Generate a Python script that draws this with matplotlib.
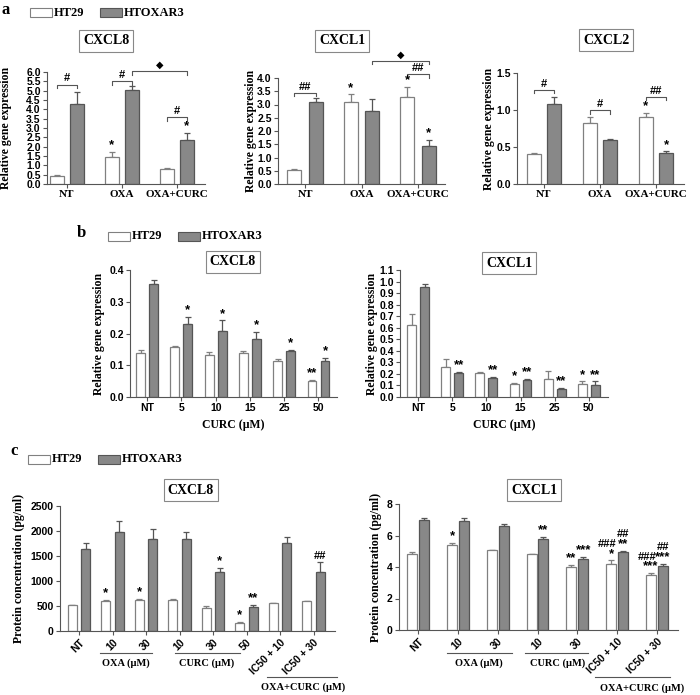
import numpy as np
import matplotlib
matplotlib.use('Agg')
import matplotlib.pyplot as plt
from matplotlib.patches import Rectangle
from matplotlib.transforms import blended_transform_factory

W, H = 700, 695
SERIF = ['Liberation Serif', 'DejaVu Serif']
SANS = ['Liberation Sans', 'DejaVu Sans']
GRAY = '#888888'
EDGE_G = '#555555'
EDGE_W = '#808080'

# ── Datos: panel a (expresión relativa) ─────────────────
a_cats = ['NT', 'OXA', 'OXA+CURC']
a8_ht29 = [0.45, 1.45, 0.78]
a8_ht29_err = [0.05, 0.25, 0.10]
a8_htox = [4.30, 5.05, 2.35]
a8_htox_err = [0.65, 0.20, 0.40]

a1_ht29 = [0.52, 3.08, 3.27]
a1_ht29_err = [0.03, 0.30, 0.38]
a1_htox = [3.08, 2.75, 1.42]
a1_htox_err = [0.15, 0.45, 0.25]

a2_ht29 = [0.40, 0.82, 0.90]
a2_ht29_err = [0.02, 0.09, 0.06]
a2_htox = [1.08, 0.60, 0.42]
a2_htox_err = [0.10, 0.01, 0.02]

# ── Datos: panel b (dosis de CURC) ──────────────────────
b_cats = ['NT', '5', '10', '15', '25', '50']
b8_ht29 = [0.140, 0.158, 0.132, 0.140, 0.113, 0.050]
b8_ht29_err = [0.008, 0.004, 0.010, 0.006, 0.006, 0.005]
b8_htox = [0.355, 0.230, 0.208, 0.182, 0.145, 0.113]
b8_htox_err = [0.013, 0.023, 0.033, 0.022, 0.004, 0.009]
b8_ht29_sig = ['', '', '', '', '', '**']
b8_htox_sig = ['', '*', '*', '*', '*', '*']

b1_ht29 = [0.62, 0.26, 0.21, 0.11, 0.16, 0.11]
b1_ht29_err = [0.10, 0.07, 0.005, 0.015, 0.065, 0.025]
b1_htox = [0.95, 0.21, 0.165, 0.15, 0.07, 0.10]
b1_htox_err = [0.025, 0.005, 0.008, 0.003, 0.01, 0.035]
b1_ht29_sig = ['', '', '', '*', '', '*']
b1_htox_sig = ['', '**', '**', '**', '**', '**']

# ── Datos: panel c (proteína) ───────────────────────────
c8_cats = ['NT', '10', '30', '10', '30', '50', 'IC50 + 10', 'IC50 + 30']
c8_ht29 = [520, 610, 630, 630, 460, 160, 560, 600]
c8_ht29_err = [10, 10, 10, 10, 40, 30, 5, 5]
c8_htox = [1640, 1980, 1840, 1840, 1190, 480, 1770, 1190]
c8_htox_err = [120, 220, 200, 140, 70, 45, 120, 190]
c8_ht29_sig = ['', '*', '*', '', '', '*', '', '']
c8_htox_sig = ['', '', '', '', '*', '**', '', '##']

c1_cats = ['NT', '10', '30', '10', '30', 'IC50 + 10', 'IC50 + 30']
c1_ht29 = [4.83, 5.40, 5.05, 4.80, 4.00, 4.22, 3.52]
c1_ht29_err = [0.10, 0.15, 0.04, 0.02, 0.12, 0.20, 0.12]
c1_htox = [7.00, 6.93, 6.63, 5.75, 4.50, 4.97, 4.05]
c1_htox_err = [0.08, 0.20, 0.10, 0.15, 0.12, 0.03, 0.13]
c1_ht29_sig = ['', '*', '', '', '**', '*', '***']
c1_htox_sig = ['', '', '', '**', '***', '**', '***']
c1_ht29_hash = ['', '', '', '', '', '###', '###']
c1_htox_hash = ['', '', '', '', '', '##', '##']


def rect(l, t, r, b):
    return [l / W, 1 - b / H, (r - l) / W, (b - t) / H]


def base_axes(fig, box, xlim, ylim, yticks, yfmt, ylabel, lab_px):
    ax = fig.add_axes(rect(*box))
    ax.set_xlim(*xlim)
    ax.set_ylim(*ylim)
    ax.set_yticks(yticks)
    ax.set_yticklabels([yfmt.format(v) for v in yticks],
                       family=SANS, fontweight='bold', fontsize=7.5)
    for s in ['top', 'right']:
        ax.spines[s].set_visible(False)
    for s in ['left', 'bottom']:
        ax.spines[s].set_color('#555555')
        ax.spines[s].set_linewidth(0.8)
    ax.tick_params(length=3, width=0.8, color='#555555', pad=1.5)
    ax.set_ylabel(ylabel, family=SERIF, fontweight='bold', fontsize=8.5)
    # lab_px: distancia (px) desde el eje hasta el borde derecho del rótulo
    ax.yaxis.set_label_coords(-lab_px / (box[2] - box[0]), 0.5)
    return ax


def draw_bars(ax, x, v1, e1, v2, e2, off, w, capw):
    x = np.asarray(x, dtype=float)
    ax.bar(x - off, v1, w, color='white', edgecolor=EDGE_W, linewidth=0.9, zorder=2)
    ax.bar(x + off, v2, w, color=GRAY, edgecolor=EDGE_G, linewidth=0.9, zorder=2)
    ax.errorbar(x - off, v1, yerr=[np.zeros(len(v1)), e1], fmt='none',
                ecolor=EDGE_W, elinewidth=0.9, capsize=capw, capthick=0.9, zorder=1)
    ax.errorbar(x + off, v2, yerr=[np.zeros(len(v2)), e2], fmt='none',
                ecolor=EDGE_G, elinewidth=0.9, capsize=capw, capthick=0.9, zorder=1)


def sig(ax, x, top, txt, dy=0.5, ha='center'):
    if not txt:
        return
    fs = 8 if '#' in txt else 9.5
    ax.annotate(txt, xy=(x, top), xytext=(0, dy), textcoords='offset points',
                ha=ha, va='bottom', family=SANS, fontweight='bold',
                fontsize=fs, annotation_clip=False)


def bracket(ax, x1, x2, y, h, txt):
    ax.plot([x1, x1, x2, x2], [y - h, y, y, y - h], color='#555555', lw=0.8,
            clip_on=False)
    ax.text((x1 + x2) / 2, y + h * 0.3, txt, ha='center', va='bottom',
            family=SANS, fontweight='bold', fontsize=8 if txt != '\u25c6' else 7)


def title_box(x, y, txt):
    fig.text(x / W, 1 - y / H, txt, ha='center', va='center', family=SERIF,
             fontweight='bold', fontsize=10,
             bbox=dict(boxstyle='square,pad=0.3', facecolor='white',
                       edgecolor='#888888', linewidth=0.8))


def legend(x0, yc, gx):
    for bx, fc, ec, name in [(x0, 'white', EDGE_W, 'HT29'),
                              (gx, GRAY, EDGE_G, 'HTOXAR3')]:
        fig.patches.append(Rectangle((bx / W, 1 - (yc + 4.5) / H), 22 / W, 9 / H,
                                     transform=fig.transFigure, facecolor=fc,
                                     edgecolor=ec, linewidth=0.8))
        fig.text((bx + 24) / W, 1 - yc / H, name, ha='left', va='center',
                 family=SERIF, fontweight='bold', fontsize=9)


def group_label(ax, x1, x2, yline, ylab, xlab, txt):
    tr = blended_transform_factory(ax.transData, ax.transAxes)
    ax.plot([x1, x2], [yline, yline], color='#555555', lw=0.8,
            transform=tr, clip_on=False)
    ax.text(xlab, ylab, txt, transform=tr, ha='center', va='center',
            family=SERIF, fontweight='bold', fontsize=7.5)


fig = plt.figure(figsize=(7, 6.95), dpi=100)
fig.patch.set_facecolor('white')

# ── Panel a ────────────────────────────────────────────
fig.text(2 / W, 1 - 10 / H, 'a', family=SERIF, fontweight='bold', fontsize=12,
         va='center')
legend(30, 12.5, 100)
xa = np.arange(3)
ylab_a = 'Relative gene expression'

ax = base_axes(fig, (47, 72, 205, 184), (-0.36, 2.51), (0, 6),
               np.arange(0, 6.01, 0.5), '{:.1f}', ylab_a, 35)
draw_bars(ax, xa, a8_ht29, a8_ht29_err, a8_htox, a8_htox_err, 0.18, 0.25, 2.5)
sig(ax, 1 - 0.18, a8_ht29[1] + a8_ht29_err[1], '*')
sig(ax, 2 + 0.18, a8_htox[2] + a8_htox_err[2], '*')
bracket(ax, -0.18, 0.18, 5.33, 0.2, '#')
bracket(ax, 1 - 0.18, 1 + 0.18, 5.5, 0.2, '#')
bracket(ax, 2 - 0.18, 2 + 0.18, 3.57, 0.2, '#')
bracket(ax, 1 + 0.18, 2 + 0.18, 6.05, 0.2, '\u25c6')
ax.set_xticks(xa)
ax.set_xticklabels(a_cats, family=SERIF, fontweight='bold', fontsize=8)
title_box(106, 41, 'CXCL8')

ax = base_axes(fig, (278, 78, 445, 184), (-0.48, 2.48), (0, 4),
               np.arange(0, 4.01, 0.5), '{:.1f}', ylab_a, 21)
draw_bars(ax, xa, a1_ht29, a1_ht29_err, a1_htox, a1_htox_err, 0.19, 0.25, 2.5)
sig(ax, 1 - 0.19, a1_ht29[1] + a1_ht29_err[1], '*')
sig(ax, 2 - 0.19, a1_ht29[2] + a1_ht29_err[2], '*')
sig(ax, 2 + 0.19, a1_htox[2] + a1_htox_err[2], '*')
bracket(ax, -0.19, 0.19, 3.45, 0.13, '##')
bracket(ax, 2 - 0.19, 2 + 0.19, 4.14, 0.13, '##')
bracket(ax, 1 + 0.19, 2 + 0.19, 4.64, 0.13, '\u25c6')
ax.set_xticks(xa)
ax.set_xticklabels(a_cats, family=SERIF, fontweight='bold', fontsize=8)
title_box(342, 41, 'CXCL1')

ax = base_axes(fig, (517, 73, 684, 184), (-0.48, 2.5), (0, 1.5),
               [0, 0.5, 1.0, 1.5], '{:.1f}', ylab_a, 22)
draw_bars(ax, xa, a2_ht29, a2_ht29_err, a2_htox, a2_htox_err, 0.18, 0.25, 2.5)
sig(ax, 2 - 0.18, a2_ht29[2] + a2_ht29_err[2], '*')
sig(ax, 2 + 0.18, a2_htox[2] + a2_htox_err[2], '*')
bracket(ax, -0.18, 0.18, 1.275, 0.05, '#')
bracket(ax, 1 - 0.18, 1 + 0.18, 1.0, 0.05, '#')
bracket(ax, 2 - 0.18, 2 + 0.18, 1.18, 0.05, '##')
ax.set_xticks(xa)
ax.set_xticklabels(a_cats, family=SERIF, fontweight='bold', fontsize=8)
title_box(606, 40, 'CXCL2')

# ── Panel b ────────────────────────────────────────────
fig.text(77 / W, 1 - 233 / H, 'b', family=SERIF, fontweight='bold', fontsize=12,
         va='center')
legend(108, 236, 178)
xb = np.arange(6)

ax = base_axes(fig, (130, 270, 337, 397), (-0.5, 5.54), (0, 0.4),
               np.arange(0, 0.401, 0.1), '{:.1f}', ylab_a, 25)
draw_bars(ax, xb, b8_ht29, b8_ht29_err, b8_htox, b8_htox_err, 0.19, 0.26, 2)
for i in range(6):
    sig(ax, i - 0.19, b8_ht29[i] + b8_ht29_err[i], b8_ht29_sig[i])
    sig(ax, i + 0.19, b8_htox[i] + b8_htox_err[i], b8_htox_sig[i])
ax.set_xticks(xb)
ax.set_xticklabels(b_cats, family=SANS, fontweight='bold', fontsize=7.5)
ax.set_xlabel('CURC (\u00b5M)', family=SERIF, fontweight='bold', fontsize=8.5,
              labelpad=4)
title_box(233, 262, 'CXCL8')

ax = base_axes(fig, (400, 270, 608, 397), (-0.53, 5.56), (0, 1.1),
               np.arange(0, 1.101, 0.1), '{:.1f}', ylab_a, 22)
draw_bars(ax, xb, b1_ht29, b1_ht29_err, b1_htox, b1_htox_err, 0.19, 0.26, 2)
for i in range(6):
    sig(ax, i - 0.19, b1_ht29[i] + b1_ht29_err[i], b1_ht29_sig[i])
    sig(ax, i + 0.19, b1_htox[i] + b1_htox_err[i], b1_htox_sig[i])
ax.set_xticks(xb)
ax.set_xticklabels(b_cats, family=SANS, fontweight='bold', fontsize=7.5)
ax.set_xlabel('CURC (\u00b5M)', family=SERIF, fontweight='bold', fontsize=8.5,
              labelpad=4)
title_box(509, 263, 'CXCL1')

# ── Panel c ────────────────────────────────────────────
fig.text(10 / W, 1 - 451 / H, 'c', family=SERIF, fontweight='bold', fontsize=12,
         va='center')
legend(28, 459, 98)
ylab_c = 'Protein concentration (pg/ml)'

x8 = np.arange(len(c8_cats))
ax = base_axes(fig, (60, 506, 335, 631), (-0.57, 7.64), (0, 2500),
               np.arange(0, 2501, 500), '{:.0f}', ylab_c, 35)
draw_bars(ax, x8, c8_ht29, c8_ht29_err, c8_htox, c8_htox_err, 0.2, 0.27, 2)
for i in range(len(x8)):
    sig(ax, i - 0.2, c8_ht29[i] + c8_ht29_err[i], c8_ht29_sig[i])
    sig(ax, i + 0.2, c8_htox[i] + c8_htox_err[i], c8_htox_sig[i])
ax.set_xticks(x8)
ax.set_xticklabels(c8_cats, family=SANS, fontweight='bold', fontsize=7.5,
                   rotation=45, ha='right', rotation_mode='anchor')
group_label(ax, 0.63, 2.18, -0.176, -0.256, 1.4, 'OXA (\u00b5M)')
group_label(ax, 2.87, 4.8, -0.176, -0.256, 3.8, 'CURC (\u00b5M)')
group_label(ax, 5.6, 7.7, -0.368, -0.448, 6.7, 'OXA+CURC (\u00b5M)')
title_box(191, 490, 'CXCL8')

x1 = np.arange(len(c1_cats))
ax = base_axes(fig, (399, 504, 678, 630), (-0.48, 6.53), (0, 8),
               [0, 2, 4, 6, 8], '{:.0f}', ylab_c, 17)
draw_bars(ax, x1, c1_ht29, c1_ht29_err, c1_htox, c1_htox_err, 0.147, 0.25, 2)
for i in range(len(x1)):
    top_w = c1_ht29[i] + c1_ht29_err[i]
    top_g = c1_htox[i] + c1_htox_err[i]
    sig(ax, i - 0.147, top_w, c1_ht29_sig[i])
    sig(ax, i + 0.147, top_g, c1_htox_sig[i])
    # almohadillas: "###" a la altura de los asteriscos grises, "##" encima
    sig(ax, i - 0.01, top_g, c1_ht29_hash[i], dy=1.5, ha='right')
    sig(ax, i + 0.147, top_g, c1_htox_hash[i], dy=9.0)
ax.set_xticks(x1)
ax.set_xticklabels(c1_cats, family=SANS, fontweight='bold', fontsize=7.5,
                   rotation=45, ha='right', rotation_mode='anchor')
group_label(ax, 0.73, 2.36, -0.183, -0.26, 1.53, 'OXA (\u00b5M)')
group_label(ax, 2.69, 4.27, -0.183, -0.26, 3.5, 'CURC (\u00b5M)')
group_label(ax, 4.45, 6.33, -0.373, -0.46, 5.63, 'OXA+CURC (\u00b5M)')
title_box(534, 490, 'CXCL1')

fig.savefig('out.png', dpi=100, facecolor='white')
